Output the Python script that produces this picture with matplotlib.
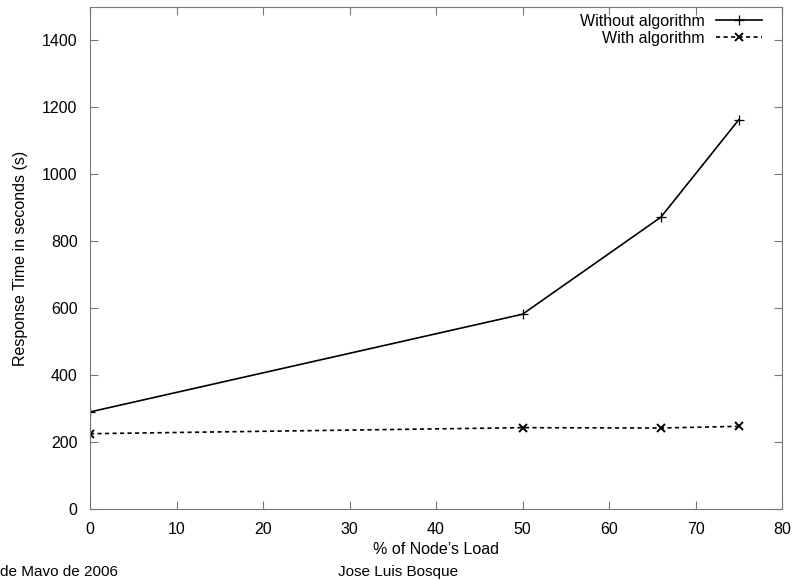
import matplotlib.pyplot as plt

plt.rcParams['font.family'] = ['Liberation Sans', 'DejaVu Sans']

# node load (%) and response time (s)
load = [0, 50, 66, 75]
without_alg = [290, 582, 872, 1163]
with_alg = [225, 243, 242, 247]

W, H = 794, 580
fig = plt.figure(figsize=(W / 100, H / 100), dpi=100)
ax = fig.add_axes([90 / W, 1 - 509 / H, 692 / W, 502 / H])

ax.plot(load, without_alg, color='black', lw=1.2, marker='+', ms=7,
        mew=0.9, label='Without algorithm')
ax.plot(load, with_alg, color='black', lw=1.2, ls=(0, (2.5, 2)), marker='x',
        ms=6, mew=1.4, label='With algorithm')

ax.set_xlim(0, 80)
ax.set_ylim(0, 1500)
ax.set_xticks(range(0, 81, 10))
ax.set_yticks(range(0, 1401, 200))
ax.tick_params(direction='in', top=True, right=True, length=6,
               color='#777777', labelsize=11.5, pad=9)
for s in ax.spines.values():
    s.set_color('#777777')

ax.set_xlabel("% of Node\u2019s Load", fontsize=11.5, labelpad=4)
ax.set_ylabel('Response Time in seconds (s)', fontsize=11.5, labelpad=10)

ax.legend(loc='upper right', bbox_to_anchor=(762 / W, 1 - 14 / H),
          bbox_transform=fig.transFigure, frameon=False, markerfirst=False,
          fontsize=11.5, handlelength=2.9, labelspacing=0.1,
          borderpad=0, borderaxespad=0, handletextpad=0.7)

fig.text(0.0, 1 - 572 / H, 'de Mavo de 2006', fontsize=11, va='center')
fig.text(338 / W, 1 - 572 / H, 'Jose Luis Bosque', fontsize=11, va='center')

plt.savefig('out.png', dpi=100)
